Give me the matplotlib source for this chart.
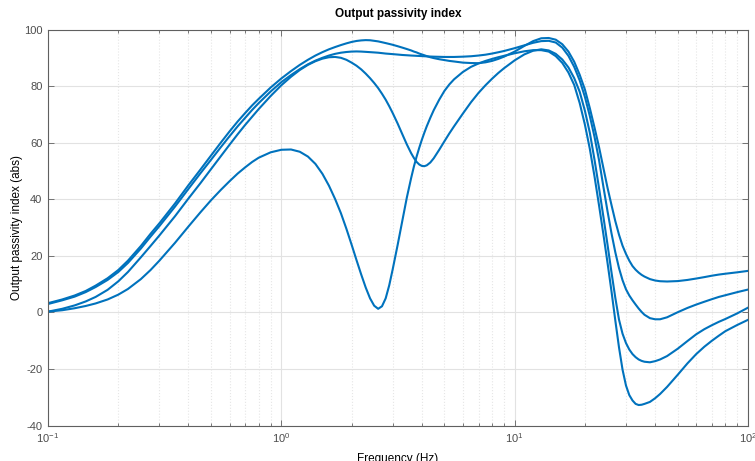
import matplotlib
matplotlib.use("Agg")
import matplotlib.pyplot as plt
import numpy as np
from matplotlib.ticker import LogLocator

# frequency points (Hz) shared by all four responses
freq = [0.1, 0.115, 0.13, 0.145, 0.16, 0.18, 0.2, 0.22, 0.25, 0.275, 0.3, 0.35, 0.4, 0.45,
        0.5, 0.55, 0.6, 0.65, 0.7, 0.75, 0.8, 0.9, 1.0, 1.1, 1.2, 1.3, 1.4, 1.5, 1.6, 1.7,
        1.8, 1.9, 2.0, 2.1, 2.2, 2.3, 2.4, 2.5, 2.6, 2.7, 2.8, 2.9, 3.0, 3.15, 3.3, 3.45,
        3.6, 3.7, 3.8, 3.9, 4.0, 4.1, 4.2, 4.35, 4.5, 4.75, 5, 5.25, 5.5, 6, 6.5, 7, 7.5,
        8, 8.5, 9, 10, 11, 12, 13, 14, 15, 16, 17, 18, 19, 20, 21, 22, 23, 24, 25, 26,
        27, 28, 29, 30, 31, 32, 33, 34, 35, 36, 38, 40, 42, 45, 50, 55, 60, 65, 70, 75,
        80, 90, 100]

# output passivity index (abs)
index_a = [3.3, 4.6, 6.0, 7.6, 9.5, 12.1, 15.0, 18.3, 23.5, 27.8, 31.5, 38.5, 45.0, 50.5,
           55.5, 60.0, 64.0, 67.5, 70.5, 73.2, 75.5, 79.5, 82.7, 85.3, 87.5, 89.3, 90.8, 92.0, 93.0, 93.8,
           94.5, 95.1, 95.6, 95.95, 96.15, 96.25, 96.2, 96.0, 95.8, 95.5, 95.2, 94.9, 94.6, 94.1, 93.6, 93.1,
           92.6, 92.2, 91.9, 91.5, 91.2, 90.9, 90.6, 90.2, 89.9, 89.5, 89.2, 88.9, 88.7, 88.3, 88.15, 88.1, 88.4,
           88.9, 89.6, 90.4, 92.2, 94.2, 95.9, 96.9, 97.0, 96.4, 94.8, 92.2, 88.6, 84.0, 78.8, 72.2, 65.3, 58.4, 51.1, 44.1, 38.0,
           32.3, 27.5, 23.6, 20.7, 18.3, 16.4, 15.1, 14.1, 13.3, 12.7, 11.8, 11.3, 11.05, 10.95, 11.1, 11.5, 12.0, 12.5, 13.0, 13.4,
           13.7, 14.2, 14.7]
index_b = [3.0, 4.3, 5.6, 7.2, 9.0, 11.5, 14.3, 17.5, 22.6, 26.8, 30.5, 37.4, 43.7, 49.2,
           54.0, 58.4, 62.3, 65.8, 68.8, 71.6, 74.0, 78.1, 81.4, 83.9, 86.0, 87.7, 89.0, 90.0, 90.8, 91.4,
           91.8, 92.05, 92.2, 92.25, 92.2, 92.1, 92.0, 91.9, 91.8, 91.65, 91.5, 91.4, 91.3, 91.15, 91.0, 90.9,
           90.8, 90.75, 90.7, 90.65, 90.6, 90.55, 90.5, 90.45, 90.4, 90.35, 90.3, 90.3, 90.3, 90.4, 90.55, 90.8, 91.1,
           91.5, 91.95, 92.4, 93.4, 94.4, 95.3, 95.9, 96.0, 95.4, 93.6, 90.7, 86.8, 82.0, 76.2, 69.4, 62.0, 53.8, 44.5, 35.8, 28.0,
           21.3, 15.7, 11.4, 8.2, 6.0, 4.3, 2.8, 1.4, 0.2, -0.8, -2.0, -2.4, -2.4, -1.7, 0.1, 1.6, 2.8, 3.8, 4.7, 5.5,
           6.1, 7.2, 8.1]
index_c = [0.3, 1.3, 2.5, 3.9, 5.5, 8.0, 11.0, 14.3, 19.5, 23.5, 27.2, 34.0, 40.3, 45.7,
           50.7, 55.2, 59.3, 63.0, 66.3, 69.2, 71.9, 76.5, 80.3, 83.3, 85.7, 87.5, 88.8, 89.7, 90.2, 90.3,
           90.0, 89.3, 88.3, 87.2, 85.9, 84.4, 82.8, 81.1, 79.3, 77.3, 75.2, 72.9, 70.5, 66.8, 63.0, 59.4,
           56.3, 54.6, 53.2, 52.3, 51.8, 51.7, 52.0, 53.0, 54.5, 57.5, 60.5, 63.3, 65.8, 70.3, 74.3, 77.6, 80.3,
           82.6, 84.6, 86.3, 89.1, 91.2, 92.5, 93.0, 92.6, 91.4, 89.4, 86.6, 82.8, 78.0, 71.3, 63.5, 53.9, 43.9, 33.9, 24.0, 14.2,
           5.2, -2.5, -7.5, -10.8, -13.1, -14.7, -15.8, -16.6, -17.1, -17.4, -17.6, -17.2, -16.6, -15.4, -12.8, -10.1, -7.7, -5.9, -4.5, -3.3,
           -2.3, -0.3, 1.7]
index_d = [0.3, 0.8, 1.5, 2.3, 3.2, 4.6, 6.3, 8.3, 11.8, 15.0, 18.3, 24.6, 30.4, 35.4,
           39.7, 43.3, 46.4, 49.1, 51.3, 53.2, 54.7, 56.6, 57.5, 57.6, 56.8, 55.1, 52.5, 49.0, 44.8, 40.1,
           35.1, 29.6, 24.0, 18.5, 13.4, 8.8, 5.0, 2.4, 1.3, 2.2, 5.0, 9.6, 15.2, 23.8, 32.4, 40.6,
           47.5, 51.6, 55.1, 58.2, 61.0, 63.5, 65.8, 68.8, 71.5, 75.2, 78.3, 80.6, 82.4, 85.0, 86.8, 88.0, 88.9,
           89.6, 90.2, 90.7, 91.6, 92.3, 92.7, 92.7, 92.2, 90.6, 88.2, 84.8, 80.4, 74.0, 66.4, 57.8, 48.0, 37.8, 27.7, 17.6, 7.5,
           -2.8, -12.3, -20.2, -25.8, -29.2, -31.1, -32.3, -32.7, -32.6, -32.3, -31.6, -30.3, -28.8, -26.3, -22.0, -18.0, -14.7, -12.1, -10.0, -8.2,
           -6.6, -4.4, -2.6]

yticks = [-40, -20, 0, 20, 40, 60, 80, 100]

plt.rcParams['font.family'] = ['Liberation Sans', 'DejaVu Sans']
plt.rcParams['axes.unicode_minus'] = False

fig = plt.figure(figsize=(7.55, 4.61), dpi=100)
ax = fig.add_axes([0.0636, 0.0766, 0.9271, 0.8594])

blue = '#0072BD'
for vals in (index_a, index_b, index_c, index_d):
    ax.plot(freq, vals, color=blue, lw=1.5, solid_joinstyle='round')

ax.set_xscale('log')
ax.set_xlim(0.1, 100)
ax.set_ylim(-40, 100)
ax.set_yticks(yticks)
ax.xaxis.set_minor_locator(LogLocator(base=10, subs=np.arange(2, 10)))

ax.set_axisbelow(True)
ax.grid(which='major', color='#e2e2e2', lw=0.8)
ax.grid(which='minor', axis='x', color='#e6e6e6', ls=':', lw=0.8)

gray = '#4d4d4d'
for s in ax.spines.values():
    s.set_color('#606060')
    s.set_linewidth(0.8)
ax.tick_params(which='both', direction='in', top=True, right=True,
               colors='#606060', labelcolor=gray, labelsize=8)
ax.tick_params(which='major', length=4.5, width=0.6, pad=4)
ax.tick_params(which='minor', length=2.5, width=0.6)

ax.set_title('Output passivity index', fontsize=8.5, fontweight='bold', pad=9)
ax.set_ylabel('Output passivity index (abs)', fontsize=8.5, labelpad=1)
ax.set_xlabel('Frequency (Hz)', fontsize=8.5, labelpad=6)

fig.savefig('out.png', dpi=100)
